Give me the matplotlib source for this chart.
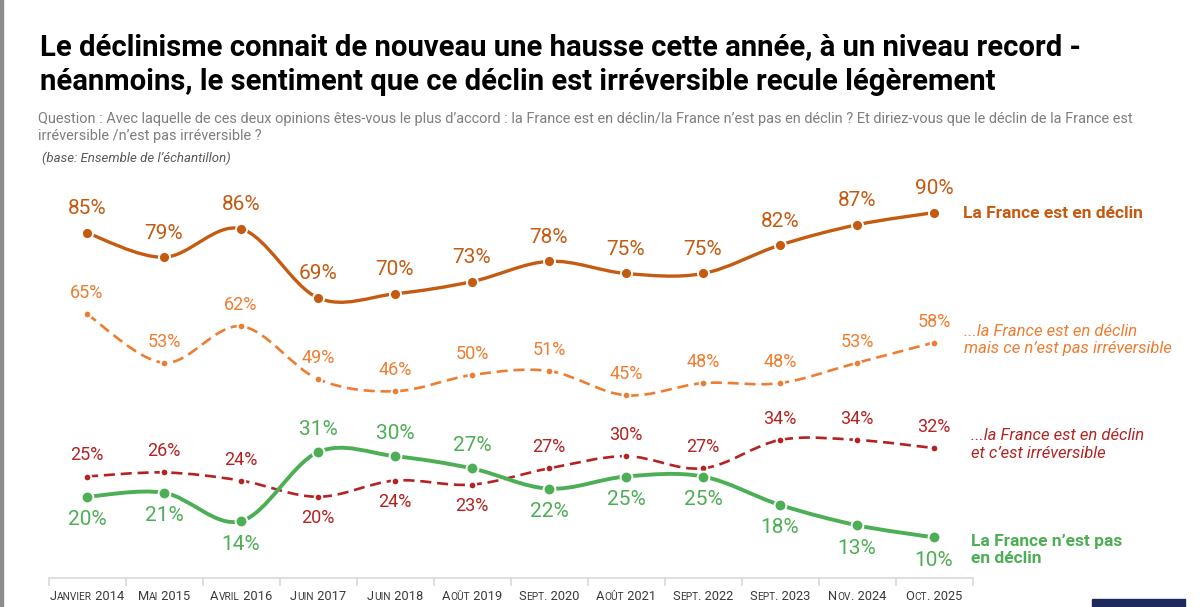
import matplotlib
matplotlib.use('Agg')
import matplotlib.pyplot as plt
from matplotlib.path import Path
from matplotlib.patches import PathPatch, Rectangle
from matplotlib.offsetbox import TextArea, HPacker, AnnotationBbox

plt.rcParams['font.family'] = ['Roboto', 'DejaVu Sans']

# donnees
dates = ['Janvier 2014', 'Mai 2015', 'Avril 2016', 'Juin 2017', 'Juin 2018', 'Août 2019',
         'Sept. 2020', 'Août 2021', 'Sept. 2022', 'Sept. 2023', 'Nov. 2024', 'Oct. 2025']
declin = [85, 79, 86, 69, 70, 73, 78, 75, 75, 82, 87, 90]
declin_reversible = [65, 53, 62, 49, 46, 50, 51, 45, 48, 48, 53, 58]
declin_irreversible = [25, 26, 24, 20, 24, 23, 27, 30, 27, 34, 34, 32]
pas_declin = [20, 21, 14, 31, 30, 27, 22, 25, 25, 18, 13, 10]
# position des etiquettes : 'h' au-dessus, 'b' en dessous
pos_irreversible = ['h', 'h', 'h', 'b', 'b', 'b', 'h', 'h', 'h', 'h', 'h', 'h']
pos_pas_declin = ['b', 'b', 'b', 'h', 'h', 'h', 'b', 'b', 'b', 'b', 'b', 'b']

c_declin = '#C55A11'
c_rev = '#ED7D31'
c_irr = '#B42222'
c_pas = '#4DAF55'


def smooth_path(ys):
    # courbe lissee facon Excel : beziers cubiques a partir des points voisins
    n = len(ys)
    pts = [(i, y) for i, y in enumerate(ys)]
    verts = [pts[0]]
    codes = [Path.MOVETO]
    for i in range(n - 1):
        p0 = pts[max(i - 1, 0)]
        p1 = pts[i]
        p2 = pts[i + 1]
        p3 = pts[min(i + 2, n - 1)]
        c1 = (p1[0] + (p2[0] - p0[0]) / 6, p1[1] + (p2[1] - p0[1]) / 6)
        c2 = (p2[0] - (p3[0] - p1[0]) / 6, p2[1] - (p3[1] - p1[1]) / 6)
        verts += [c1, c2, p2]
        codes += [Path.CURVE4] * 3
    return Path(verts, codes)


fig = plt.figure(figsize=(12, 6.07), dpi=100)
ax = fig.add_axes([48.5 / 1200, 29 / 607, 924 / 1200, 406 / 607])
ax.set_xlim(-0.5, 11.5)
ax.set_ylim(0, 100)

series = [
    (declin, c_declin, '-', 2.4, 8, ['h'] * 12, 15, 24),
    (declin_reversible, c_rev, '--', 1.9, 5.5, ['h'] * 12, 13, 21),
    (declin_irreversible, c_irr, '--', 1.9, 5.5, pos_irreversible, 13, 21),
    (pas_declin, c_pas, '-', 2.8, 8.5, pos_pas_declin, 15, 23),
]

x = list(range(len(dates)))
for ys, col, ls, lw, ms, pos, fs, off in series:
    patch = PathPatch(smooth_path(ys), facecolor='none', edgecolor=col, lw=lw,
                      capstyle='butt', transform=ax.transData, zorder=2)
    if ls == '--':
        patch.set_linestyle((0, (4.2, 2.2)))
    ax.add_patch(patch)
    ax.plot(x, ys, 'o', color=col, ms=ms, mec='white', mew=1.4, zorder=3)
    for i, y in enumerate(ys):
        dy = off if pos[i] == 'h' else -off
        ax.annotate(f'{y}%', (i, y), xytext=(0, dy), textcoords='offset pixels',
                    ha='center', va='center', fontsize=fs, color=col)

# axe du bas
for s in ['top', 'right', 'left']:
    ax.spines[s].set_visible(False)
ax.spines['bottom'].set_color('#D9D9D9')
ax.spines['bottom'].set_linewidth(1.2)
ax.set_yticks([])
ax.set_xticks([i - 0.5 for i in range(len(dates) + 1)])
ax.set_xticklabels([])
ax.tick_params(axis='x', length=6, width=1.2, color='#D9D9D9')

# etiquettes de dates en petites capitales
for i, lab in enumerate(dates):
    parts = []
    cur, small = '', None
    for ch in lab:
        is_small = ch.islower()
        if small is None or is_small == small:
            cur += ch
        else:
            parts.append((cur, small))
            cur = ch
        small = is_small
    parts.append((cur, small))
    boxes = [TextArea(t.upper(), textprops=dict(size=7.3 if sm else 9.3, color='#3A3A3A'))
             for t, sm in parts]
    pack = HPacker(children=boxes, align='baseline', pad=0, sep=0)
    ab = AnnotationBbox(pack, (i, 0), xycoords=('data', 'axes fraction'),
                        xybox=(0, -19), boxcoords='offset pixels',
                        box_alignment=(0.5, 0.5), frameon=False)
    ax.add_artist(ab)

# libelles des series
fig.text(963 / 1200, 1 - 213 / 607, 'La France est en déclin', color=c_declin,
         fontsize=12.5, fontweight='bold', va='center', ha='left')
fig.text(964 / 1200, 1 - 340 / 607, '...la France est en déclin\nmais ce n\u2019est pas irréversible',
         color=c_rev, fontsize=12, style='italic', va='center', ha='left', linespacing=1.25)
fig.text(971 / 1200, 1 - 445 / 607, '...la France est en déclin\net c\u2019est irréversible',
         color=c_irr, fontsize=12, style='italic', va='center', ha='left', linespacing=1.25)
fig.text(971 / 1200, 1 - 550 / 607, 'La France n\u2019est pas\nen déclin', color=c_pas,
         fontsize=12.5, fontweight='bold', va='center', ha='left', linespacing=1.2)

# titre et question
fig.text(40 / 1200, 1 - 55 / 607,
         'Le déclinisme connait de nouveau une hausse cette année, à un niveau record -',
         fontsize=21.1, fontweight='bold', color='black', va='baseline')
fig.text(40 / 1200, 1 - 90 / 607,
         'néanmoins, le sentiment que ce déclin est irréversible recule légèrement',
         fontsize=21.1, fontweight='bold', color='black', va='baseline')
fig.text(38 / 1200, 1 - 123 / 607,
         'Question : Avec laquelle de ces deux opinions êtes-vous le plus d\u2019accord : '
         'la France est en déclin/la France n\u2019est pas en déclin ? Et diriez-vous que le déclin de la France est',
         fontsize=10.45, color='#7F7F7F', va='baseline')
fig.text(38 / 1200, 1 - 140 / 607, 'irréversible /n\u2019est pas irréversible ?',
         fontsize=10.45, color='#7F7F7F', va='baseline')
fig.text(42 / 1200, 1 - 162 / 607, '(base: Ensemble de l\u2019échantillon)',
         fontsize=9.5, color='#595959', style='italic', va='baseline')

# bordure gauche et bandeau en bas a droite
fig.patches.append(Rectangle((0, 0), 3 / 1200, 1, transform=fig.transFigure,
                             color='#8C8C8C', zorder=0))
fig.patches.append(Rectangle((1092 / 1200, 0), 93 / 1200, 8 / 607, transform=fig.transFigure,
                             color='#1F2A5C', zorder=0))

fig.savefig('out.png', dpi=100)
